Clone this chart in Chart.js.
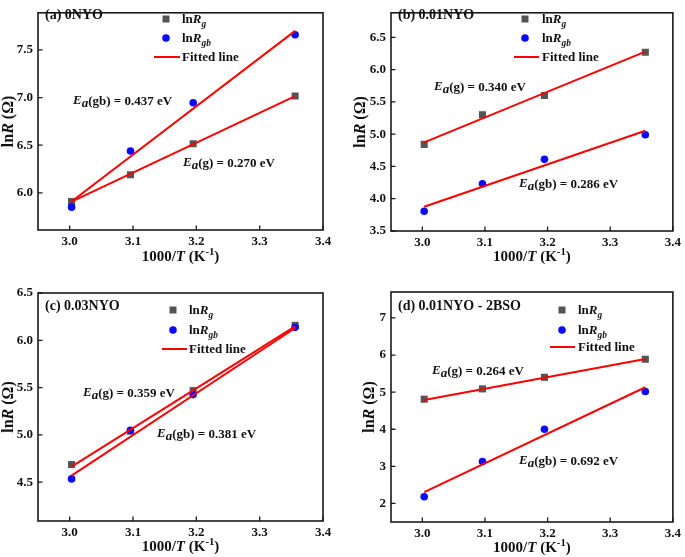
<!DOCTYPE html>
<html><head><meta charset="utf-8">
<script src="https://cdn.jsdelivr.net/npm/chart.js@4"></script>
<style>
html,body{margin:0;padding:0;background:#fff;}
body{width:685px;height:557px;position:relative;overflow:hidden;}
canvas{position:absolute;display:block;}
</style></head>
<body>
<canvas id="ca" width="342" height="278" style="left:0;top:0"></canvas>
<canvas id="cb" width="343" height="278" style="left:342px;top:0"></canvas>
<canvas id="cc" width="342" height="279" style="left:0;top:278px"></canvas>
<canvas id="cd" width="343" height="279" style="left:342px;top:278px"></canvas>
<script>
// ---------- data ----------
const xVals = [3.003, 3.096, 3.195, 3.356];      // 1000/T
const fitX = [3.003, 3.356];
const xTicks = [3.0, 3.1, 3.2, 3.3, 3.4];

// (a) 0NYO
const lnRgA  = [5.91, 6.19, 6.515, 7.016];
const lnRgbA = [5.85, 6.44, 6.945, 7.66];
const fitGA  = [5.907, 7.016];
const fitGbA = [5.91, 7.70];
const yTicksA = [6.0, 6.5, 7.0, 7.5];

// (b) 0.01NYO
const lnRgB  = [4.842, 5.30, 5.60, 6.268];
const lnRgbB = [3.806, 4.231, 4.61, 4.99];
const fitGB  = [4.872, 6.278];
const fitGbB = [3.876, 5.054];
const yTicksB = [3.5, 4.0, 4.5, 5.0, 5.5, 6.0, 6.5];

// (c) 0.03NYO
const lnRgC  = [4.687, 5.039, 5.468, 6.158];
const lnRgbC = [4.535, 5.049, 5.426, 6.137];
const fitGC  = [4.665, 6.148];
const fitGbC = [4.57, 6.13];
const yTicksC = [4.5, 5.0, 5.5, 6.0, 6.5];

// (d) 0.01NYO - 2BSO
const lnRgD  = [4.81, 5.088, 5.40, 5.887];
const lnRgbD = [2.18, 3.131, 4.002, 5.016];
const fitGD  = [4.79, 5.896];
const fitGbD = [2.305, 5.133];
const yTicksD = [2, 3, 4, 5, 6, 7];

const panelTitles = ['(a) 0NYO', '(b) 0.01NYO', '(c) 0.03NYO', '(d) 0.01NYO - 2BSO'];
const eaG  = ['0.270', '0.340', '0.359', '0.264'];
const eaGb = ['0.437', '0.286', '0.381', '0.692'];

// ---------- drawing helpers ----------
const SERIF = "'Liberation Serif', 'Times New Roman', serif";
const INK = '#111';
function fontFor(r, size){ return (r.it ? 'italic ' : '') + 'bold ' + (size*(r.s||1)).toFixed(1) + 'px ' + SERIF; }
function richWidth(ctx, runs, size){ let w=0; for(const r of runs){ ctx.font=fontFor(r,size); w+=ctx.measureText(r.t).width; } return w; }
function drawRich(ctx, runs, x, y, size, align){
  const w = richWidth(ctx, runs, size);
  let cx = align === 'center' ? x - w/2 : x;
  ctx.textBaseline = 'alphabetic'; ctx.textAlign = 'left'; ctx.fillStyle = INK;
  const base = y + size*0.33;
  for (const r of runs){ ctx.font = fontFor(r,size); ctx.fillText(r.t, cx, base + (r.dy||0)*size); cx += ctx.measureText(r.t).width; }
}
const yTitleRuns = [{t:'ln'},{t:'R',it:1},{t:' (Ω)'}];
const xTitleRuns = [{t:'1000/'},{t:'T',it:1},{t:' (K'},{t:'-1',s:0.72,dy:-0.38},{t:')'}];
const legG  = [{t:'ln'},{t:'R',it:1},{t:'g',it:1,s:0.72,dy:0.28}];
const legGb = [{t:'ln'},{t:'R',it:1},{t:'gb',it:1,s:0.72,dy:0.28}];
const legFit = [{t:'Fitted line'}];
function eaRuns(kind, val){ return [{t:'E',it:1,dy:-0.12},{t:'a',it:1,dy:0.12},{t:'('+kind+') = '+val+' eV'}]; }

// ---------- panel layouts (pixels, relative to each canvas) ----------
const panels = [
  {id:'ca', W:342, H:278, L:38, R:323, T:2,  B:230, ymin:5.61, ymax:7.89, yt:yTicksA, g:lnRgA, gb:lnRgbA, fg:fitGA, fgb:fitGbA, dec:1,
   title:[45,14], yTitleX:8, xTitleY:256, leg:{mx:166, rows:[19,38,57], l0:154, l1:180, tx:182},
   ann:[{k:'gb', v:eaGb[0], x:73, y:101},{k:'g', v:eaG[0], x:183, y:163}]},
  {id:'cb', W:343, H:278, L:49, R:333, T:1,  B:231, ymin:3.5, ymax:6.88, yt:yTicksB, g:lnRgB, gb:lnRgbB, fg:fitGB, fgb:fitGbB, dec:1,
   title:[56,14], yTitleX:18, xTitleY:256, leg:{mx:183, rows:[19,38,57], l0:172, l1:197, tx:200},
   ann:[{k:'g', v:eaG[1], x:92, y:87},{k:'gb', v:eaGb[1], x:177, y:184}]},
  {id:'cc', W:342, H:279, L:38, R:323, T:15, B:243, ymin:4.09, ymax:6.5, yt:yTicksC, g:lnRgC, gb:lnRgbC, fg:fitGC, fgb:fitGbC, dec:1,
   title:[45,27], yTitleX:8, xTitleY:268, leg:{mx:173, rows:[32,52,71], l0:162, l1:187, tx:189},
   ann:[{k:'g', v:eaG[2], x:83, y:115},{k:'gb', v:eaGb[2], x:157, y:156}]},
  {id:'cd', W:343, H:279, L:49, R:333, T:14, B:244, ymin:1.5, ymax:7.7, yt:yTicksD, g:lnRgD, gb:lnRgbD, fg:fitGD, fgb:fitGbD, dec:0,
   title:[56,27], yTitleX:27, xTitleY:269, leg:{mx:220, rows:[32,52,69], l0:208, l1:233, tx:236},
   ann:[{k:'g', v:eaG[3], x:90, y:93},{k:'gb', v:eaGb[3], x:177, y:183}]}
];

function decorPlugin(p, idx){
  return {
    id:'decor'+idx,
    afterDraw(chart){
      const ctx = chart.ctx, a = chart.chartArea;
      const xs = chart.scales.x, ys = chart.scales.y;
      ctx.save();
      // frame
      ctx.strokeStyle = '#1a1a1a'; ctx.lineWidth = 1.6;
      ctx.strokeRect(a.left, a.top, a.right - a.left, a.bottom - a.top);
      // inward ticks
      ctx.lineWidth = 1.3; ctx.beginPath();
      for (const t of xs.ticks){ const px = xs.getPixelForValue(t.value); ctx.moveTo(px, a.bottom); ctx.lineTo(px, a.bottom - 4.5); }
      for (const t of ys.ticks){ const py = ys.getPixelForValue(t.value); ctx.moveTo(a.left, py); ctx.lineTo(a.left + 4.5, py); }
      ctx.stroke();
      // axis titles
      drawRich(ctx, xTitleRuns, (a.left + a.right)/2, p.xTitleY, 15, 'center');
      ctx.save(); ctx.translate(p.yTitleX, (a.top + a.bottom)/2); ctx.rotate(-Math.PI/2);
      drawRich(ctx, yTitleRuns, 0, 0, 16, 'center'); ctx.restore();
      // panel title
      drawRich(ctx, [{t:panelTitles[idx]}], p.title[0], p.title[1], 14, 'left');
      // legend
      const lg = p.leg;
      ctx.fillStyle = '#555555';
      ctx.fillRect(lg.mx - 3.5, lg.rows[0] - 3.5, 7, 7);
      ctx.fillStyle = '#0a0aff';
      ctx.beginPath(); ctx.arc(lg.mx, lg.rows[1], 3.8, 0, Math.PI*2); ctx.fill();
      ctx.strokeStyle = '#ff0000'; ctx.lineWidth = 2;
      ctx.beginPath(); ctx.moveTo(lg.l0, lg.rows[2]); ctx.lineTo(lg.l1, lg.rows[2]); ctx.stroke();
      drawRich(ctx, legG, lg.tx, lg.rows[0], 13, 'left');
      drawRich(ctx, legGb, lg.tx, lg.rows[1], 13, 'left');
      drawRich(ctx, legFit, lg.tx, lg.rows[2], 13, 'left');
      // annotations
      for (const an of p.ann) drawRich(ctx, eaRuns(an.k, an.v), an.x, an.y, 13, 'left');
      ctx.restore();
    }
  };
}

const tickFont = {family: SERIF, size: 13, weight: 'bold'};
panels.forEach((p, idx) => {
  const pts = arr => xVals.map((x,i) => ({x, y: arr[i]}));
  const fit = arr => fitX.map((x,i) => ({x, y: arr[i]}));
  new Chart(document.getElementById(p.id), {
    type: 'scatter',
    data: { datasets: [
      {label:'fit g',  data: fit(p.fg),  showLine:true, borderColor:'#ff0000', borderWidth:2, pointRadius:0, order:0},
      {label:'fit gb', data: fit(p.fgb), showLine:true, borderColor:'#ff0000', borderWidth:2, pointRadius:0, order:0},
      {label:'lnRgb', data: pts(p.gb), pointStyle:'circle', pointRadius:3.8, backgroundColor:'#0a0aff', borderWidth:0, order:1},
      {label:'lnRg',  data: pts(p.g),  pointStyle:'rect', pointRadius:5, backgroundColor:'#555555', borderWidth:0, order:2}
    ]},
    options: {
      responsive:false, animation:false, devicePixelRatio:1,
      layout:{padding:{left:0, top:p.T, right:p.W - p.R, bottom:0}},
      plugins:{legend:{display:false}, tooltip:{enabled:false}},
      scales:{
        x:{type:'linear', min:2.95, max:3.4,
           afterBuildTicks: s => { s.ticks = xTicks.map(v => ({value:v})); },
           afterFit: s => { s.height = p.H - p.B; },
           grid:{display:false, drawTicks:false}, border:{display:false},
           ticks:{font:tickFont, color:INK, padding:4, maxRotation:0, autoSkip:false, callback: v => Number(v).toFixed(1)}},
        y:{type:'linear', min:p.ymin, max:p.ymax,
           afterBuildTicks: s => { s.ticks = p.yt.map(v => ({value:v})); },
           afterFit: s => { s.width = p.L; },
           grid:{display:false, drawTicks:false}, border:{display:false},
           ticks:{font:tickFont, color:INK, padding:5, autoSkip:false, callback: v => Number(v).toFixed(p.dec)}}
      }
    },
    plugins:[decorPlugin(p, idx)]
  });
});
</script>
</body></html>
